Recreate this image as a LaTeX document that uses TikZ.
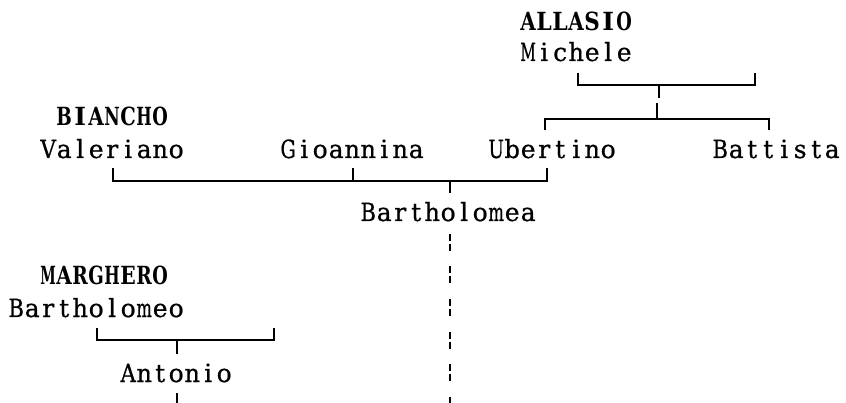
\documentclass[tikz,border=0pt]{standalone}
\usepackage{fontspec}
\usepackage{graphicx}
\setmainfont{DejaVu Serif}
\newfontfamily\kinfont{DejaVu Serif}[FakeBold=0.7]
\makeatletter
\newcommand\cells[1]{\@tfor\cellchar:=#1\do{\makebox[16pt]{\sbox0{\cellchar}%
    \ifdim\wd0>15.5pt \resizebox{15.5pt}{\height}{\cellchar}\else\usebox0\fi}}}
\makeatother
\tikzset{
    person/.style={anchor=base west, inner sep=0pt, font=\fontsize{25}{30}\selectfont\kinfont},
    family/.style={person, font=\fontsize{25}{30}\selectfont\rmfamily\bfseries},
    kin/.style={line width=1.6pt},
    descent/.style={kin, dash pattern=on 7pt off 3pt on 7pt off 15.5pt}
}
\begin{document}
\begin{tikzpicture}[x=1pt,y=-1pt]
    \useasboundingbox (0,0) rectangle (846,403);
    % names
    \node[family] (allasio) at (520,31) {\cells{ALLASIO}};
    \node[person] (michele) at (520,61) {\cells{Michele}};
    \node[person] (ubertino) at (488,158) {\cells{Ubertino}};
    \node[person] (battista) at (712,158) {\cells{Battista}};
    \node[family] (biancho) at (56,126) {\cells{BIANCHO}};
    \node[person] (valeriano) at (40,158) {\cells{Valeriano}};
    \node[person] (gioannina) at (280,158) {\cells{Gioannina}};
    \node[person] (bartholomea) at (360,221) {\cells{Bartholomea}};
    \node[family] (marghero) at (40,285) {\cells{MARGHERO}};
    \node[person] (bartholomeo) at (8,317) {\cells{Bartholomeo}};
    \node[person] (antonio) at (120,382) {\cells{Antonio}};
    % Allasio
    \coordinate (mi-l) at (578,73);
    \coordinate (mi-r) at (755,73);
    \coordinate (mi-m) at (659,85);
    \coordinate (ch-m) at (657,103);
    \coordinate (ch-b) at (657,119);
    \coordinate (ub-t) at (545,130);
    \coordinate (ba-t) at (769,130);
    \draw[kin] (mi-l) |- (mi-m) -| (mi-r);
    \draw[kin] (mi-m) -- ++(0,13);
    \draw[kin] (ch-m) -- (ch-b);
    \draw[kin] (ub-t) |- (ch-b) -| (ba-t);
    % Biancho
    \coordinate (va-t) at (113,168);
    \coordinate (gi-t) at (353,168);
    \coordinate (ub-d) at (547,168);
    \coordinate (bi-m) at (450,181);
    \coordinate (bm-t) at (450,193);
    \draw[kin] (va-t) |- (bi-m) -| (ub-d);
    \draw[kin] (gi-t) -- (gi-t |- bi-m);
    \draw[kin] (bi-m) -- (bm-t);
    \coordinate (bm-d) at (450,234);
    \coordinate (bm-e) at (450,403);
    \draw[descent] (bm-d) -- (bm-e);
    % Marghero
    \coordinate (bo-l) at (97,328);
    \coordinate (bo-r) at (274,328);
    \coordinate (bo-m) at (177,340);
    \coordinate (an-t) at (177,354);
    \draw[kin] (bo-l) |- (bo-m) -| (bo-r);
    \draw[kin] (bo-m) -- (an-t);
    \coordinate (an-d) at (177,393);
    \coordinate (an-e) at (177,403);
    \draw[kin] (an-d) -- (an-e);
\end{tikzpicture}
\end{document}
